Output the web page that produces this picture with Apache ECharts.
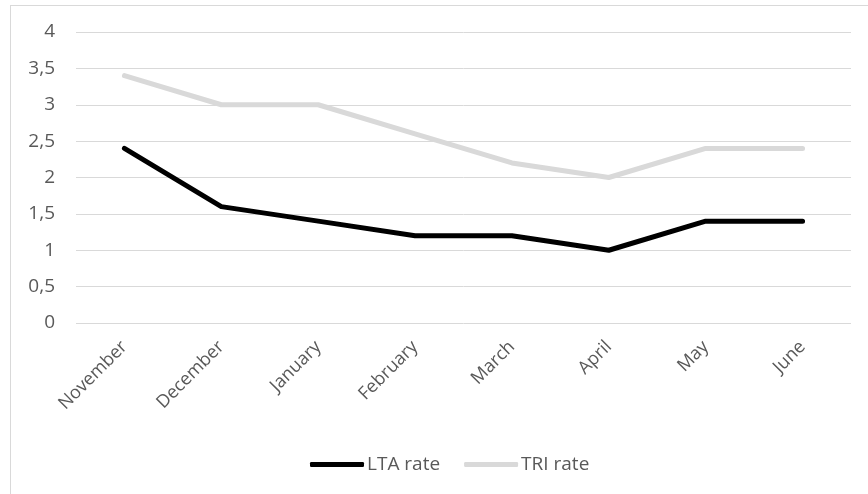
<!DOCTYPE html>
<html>
<head>
<meta charset="utf-8">
<script src="https://cdn.jsdelivr.net/npm/echarts@6/dist/echarts.min.js"></script>
<style>
  html, body { margin: 0; padding: 0; background: #fff; }
  #frame {
    position: absolute; left: 10px; top: 5px; right: 0; bottom: 0;
    border-left: 1px solid #d9d9d9; border-top: 1px solid #d9d9d9;
  }
  #chart { position: absolute; left: 0; top: 0; width: 868px; height: 494px; }
</style>
</head>
<body>
<div id="frame"></div>
<div id="chart"></div>
<script>
// 月份
const months = ['November', 'December', 'January', 'February', 'March', 'April', 'May', 'June']

// 两条序列
const ltaRate = [2.4, 1.6, 1.4, 1.2, 1.2, 1.0, 1.4, 1.4]
const triRate = [3.4, 3.0, 3.0, 2.6, 2.2, 2.0, 2.4, 2.4]

const textColor = '#595959'
const gridColor = '#d9d9d9'
const font = 'Open Sans, sans-serif'
const fontSize = 18

const chart = echarts.init(document.getElementById('chart'))

chart.setOption({
  animation: false,
  grid: { left: 76, right: 17, top: 32, bottom: 171 },
  legend: {
    top: 450,
    left: 305,
    icon: 'roundRect',
    itemWidth: 54,
    itemHeight: 5,
    itemGap: 24,
    textStyle: { color: textColor, fontSize: 19, fontFamily: font, padding: [0, 0, 0, -2] },
    data: ['LTA rate', 'TRI rate']
  },
  xAxis: {
    type: 'category',
    data: months,
    boundaryGap: true,
    axisLine: { show: false },
    axisTick: { show: false },
    axisLabel: {
      color: textColor,
      fontSize: fontSize,
      fontFamily: font,
      rotate: 45,
      margin: 21,
      interval: 0
    }
  },
  yAxis: {
    type: 'value',
    min: 0,
    max: 4,
    interval: 0.5,
    axisLine: { show: false },
    axisTick: { show: false },
    splitLine: { lineStyle: { color: gridColor, width: 1 } },
    axisLabel: {
      color: textColor,
      fontSize: 19,
      fontFamily: font,
      margin: 21,
      formatter: (v) => String(v).replace('.', ',')
    }
  },
  series: [
    {
      name: 'LTA rate',
      type: 'line',
      data: ltaRate,
      symbol: 'none',
      itemStyle: { color: '#000000' },
      lineStyle: { color: '#000000', width: 5, cap: 'round', join: 'round' }
    },
    {
      name: 'TRI rate',
      type: 'line',
      data: triRate,
      symbol: 'none',
      itemStyle: { color: '#d9d9d9' },
      lineStyle: { color: '#d9d9d9', width: 5, cap: 'round', join: 'round' }
    }
  ]
})
</script>
</body>
</html>
